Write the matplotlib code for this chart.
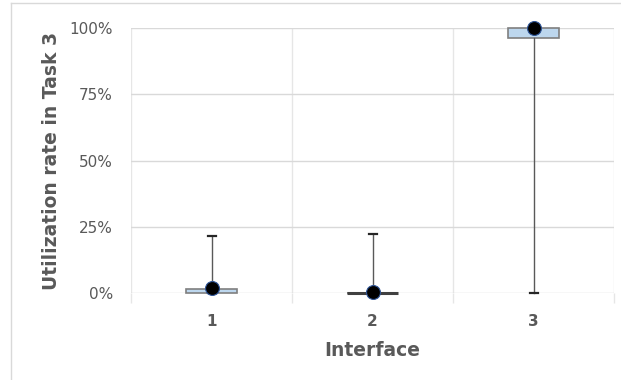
import matplotlib
matplotlib.use("Agg")
import matplotlib.pyplot as plt
from matplotlib.lines import Line2D
from matplotlib.ticker import PercentFormatter

# Utilization rate (%) per interface in task 3
interfaces = ["1", "2", "3"]
whisker_low = [0.0, 0.0, 0.0]
q1 = [0.0, 0.0, 96.2]
median = [0.5, 0.0, 100.0]
q3 = [1.5, 0.0, 100.0]
whisker_high = [21.5, 22.3, 100.0]
means = [2.0, 0.5, 100.0]

yticks = [0, 25, 50, 75, 100]

fig = plt.figure(figsize=(6.21, 3.80), dpi=100)
ax = fig.add_axes([0.211, 0.229, 0.778, 0.697])

stats = []
for i, name in enumerate(interfaces):
    stats.append(dict(label=name, whislo=whisker_low[i], q1=q1[i], med=median[i],
                      q3=q3[i], whishi=whisker_high[i], mean=means[i]))

positions = list(range(1, len(interfaces) + 1))
parts = ax.bxp(stats, positions=positions, widths=0.32, patch_artist=True,
               showmeans=True, showfliers=False, meanline=False,
               boxprops=dict(facecolor="#BDD7EE", edgecolor="#7F7F7F", linewidth=1.2),
               medianprops=dict(color="#7F7F7F", linewidth=0),
               whiskerprops=dict(color="#595959", linewidth=1.0),
               capprops=dict(color="#262626", linewidth=1.6),
               capwidths=0.05,
               meanprops=dict(marker="o", markerfacecolor="black", markeredgecolor="#2F5597",
                              markersize=10, markeredgewidth=0.8),
               zorder=3)
for group in parts.values():
    for art in group:
        art.set_clip_on(False)
for m in parts["means"]:
    m.set_zorder(5)

# Interface 2 has a collapsed box: draw it as a thick line
for i, name in enumerate(interfaces):
    if q1[i] == q3[i]:
        ax.plot([positions[i] - 0.16, positions[i] + 0.16], [q1[i], q1[i]],
                color="#404040", linewidth=2.2, zorder=4, solid_capstyle="butt",
                clip_on=False)

ax.set_xlim(0.5, 3.5)
ax.set_ylim(0, 100)
ax.set_yticks(yticks)
ax.yaxis.set_major_formatter(PercentFormatter(decimals=0))
ax.set_xticks(positions)
ax.set_xticklabels(interfaces)
ax.set_xticks([0.5, 1.5, 2.5, 3.5], minor=True)

ax.grid(axis="y", color="#D9D9D9", linewidth=1.0, zorder=0)
ax.grid(axis="x", which="minor", color="#E6E6E6", linewidth=1.0, zorder=0)
ax.tick_params(axis="y", length=0, pad=13, labelsize=11, labelcolor="#595959")
ax.tick_params(axis="x", which="major", length=0, pad=15, labelsize=11, labelcolor="#595959")
ax.tick_params(axis="x", which="minor", length=7, color="#E6E6E6", width=1.0)
for lbl in ax.get_xticklabels():
    lbl.set_fontweight("bold")
for s in ax.spines.values():
    s.set_visible(False)
ax.set_axisbelow(True)

ax.set_xlabel("Interface", fontsize=13.5, fontweight="bold", color="#595959", labelpad=9)
ax.set_ylabel("Utilization rate in Task 3", fontsize=13.5, fontweight="bold",
              color="#595959", labelpad=6)

# chart frame lines
fig.add_artist(Line2D([0.018, 1.0], [0.992, 0.992], color="#D9D9D9", linewidth=1.0,
                      transform=fig.transFigure))
fig.add_artist(Line2D([0.018, 0.018], [0.0, 0.992], color="#D9D9D9", linewidth=1.0,
                      transform=fig.transFigure))

fig.savefig("out.png", dpi=100)
